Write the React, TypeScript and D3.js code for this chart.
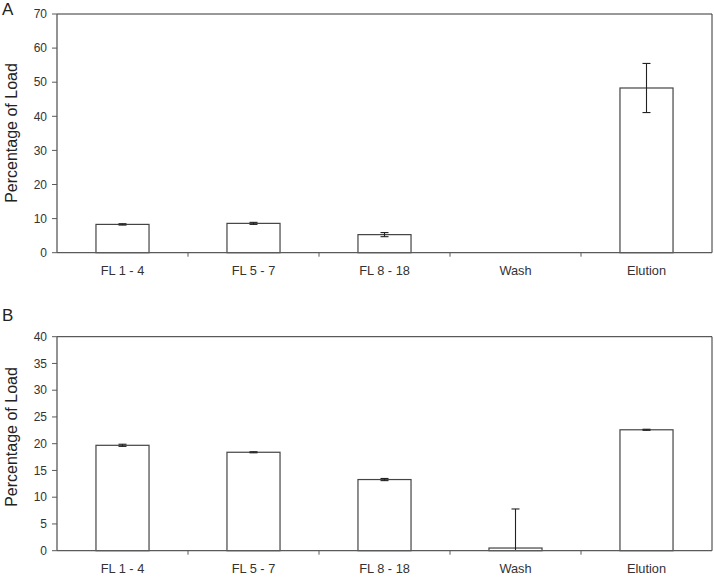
import React from "react";
import * as d3 from "d3";

const categories = ["FL 1 - 4", "FL 5 - 7", "FL 8 - 18", "Wash", "Elution"];
const valuesA = [8.3, 8.6, 5.3, 0, 48.3];
const errorsA = [0.2, 0.3, 0.6, 0, 7.2];
const valuesB = [19.7, 18.4, 13.3, 0.5, 22.6];
const errorsB = [0.2, 0.1, 0.2, 7.3, 0.1];
const ticksA = [0, 10, 20, 30, 40, 50, 60, 70];
const ticksB = [0, 5, 10, 15, 20, 25, 30, 35, 40];

const W = 714;
const H = 577;
const FONT = "'Liberation Sans', Arial, sans-serif";

type PanelProps = {
  label: string;
  top: number;
  bottom: number;
  values: number[];
  errors: number[];
  ticks: number[];
  max: number;
  titleY: number;
  labelY: number;
};

function Panel({ label, top, bottom, values, errors, ticks, max, titleY, labelY }: PanelProps) {
  const left = 57;
  const right = 712;
  const x = d3.scaleBand<string>().domain(categories).range([left, right]).padding(0);
  const y = d3.scaleLinear().domain([0, max]).range([bottom, top]);
  const bw = x.bandwidth() * 0.405;
  const axisColor = "#5a5a5a";
  return (
    <g>
      <text x={2} y={labelY} fontFamily={FONT} fontSize={17} fill="#222">{label}</text>
      {/* frame */}
      <line x1={left} x2={right} y1={top} y2={top} stroke="#333" strokeWidth={1} />
      <line x1={right} x2={right} y1={top} y2={bottom} stroke="#333" strokeWidth={1} />
      {/* bars */}
      {categories.map((c, i) => {
        const cx = (x(c) as number) + x.bandwidth() / 2;
        const v = values[i];
        const e = errors[i];
        return (
          <g key={c}>
            {v > 0 && (
              <rect x={cx - bw / 2} y={y(v)} width={bw} height={y(0) - y(v)} fill="#fff" stroke="#444" strokeWidth={1.2} />
            )}
            {e > 0 && (
              <g stroke="#222" strokeWidth={1.1}>
                <line x1={cx} x2={cx} y1={y(v + e)} y2={y(Math.max(0, v - e))} />
                <line x1={cx - 4} x2={cx + 4} y1={y(v + e)} y2={y(v + e)} />
                {v - e > 0 && <line x1={cx - 4} x2={cx + 4} y1={y(v - e)} y2={y(v - e)} />}
              </g>
            )}
          </g>
        );
      })}
      {/* y axis */}
      <line x1={left} x2={left} y1={top} y2={bottom} stroke={axisColor} strokeWidth={1.3} />
      {ticks.map((t) => (
        <g key={t}>
          <line x1={left - 5} x2={left} y1={y(t)} y2={y(t)} stroke={axisColor} strokeWidth={1} />
          <text x={left - 10} y={y(t)} dy="0.35em" textAnchor="end" fontFamily={FONT} fontSize={12} fill="#333">{t}</text>
        </g>
      ))}
      <text transform={`translate(17,${titleY}) rotate(-90)`} textAnchor="middle" fontFamily={FONT} fontSize={16} fill="#222">Percentage of Load</text>
      {/* x axis */}
      <line x1={left} x2={right} y1={bottom} y2={bottom} stroke={axisColor} strokeWidth={1.3} />
      {categories.map((c, i) => (
        <g key={c}>
          {i > 0 && <line x1={x(c) as number} x2={x(c) as number} y1={bottom} y2={bottom + 4} stroke={axisColor} strokeWidth={1} />}
          <text x={(x(c) as number) + x.bandwidth() / 2} y={bottom + 18} dy="0.35em" textAnchor="middle" fontFamily={FONT} fontSize={12.8} fill="#333">{c}</text>
        </g>
      ))}
    </g>
  );
}

export default function App() {
  return (
    <svg width={W} height={H} style={{ position: "absolute", left: 0, top: 0, background: "#fff" }}>
      <rect width={W} height={H} fill="#fff" />
      <Panel label="A" top={14} bottom={252.7} values={valuesA} errors={errorsA} ticks={ticksA} max={70} titleY={133} labelY={15} />
      <Panel label="B" top={336.7} bottom={550.7} values={valuesB} errors={errorsB} ticks={ticksB} max={40} titleY={437} labelY={321} />
    </svg>
  );
}
